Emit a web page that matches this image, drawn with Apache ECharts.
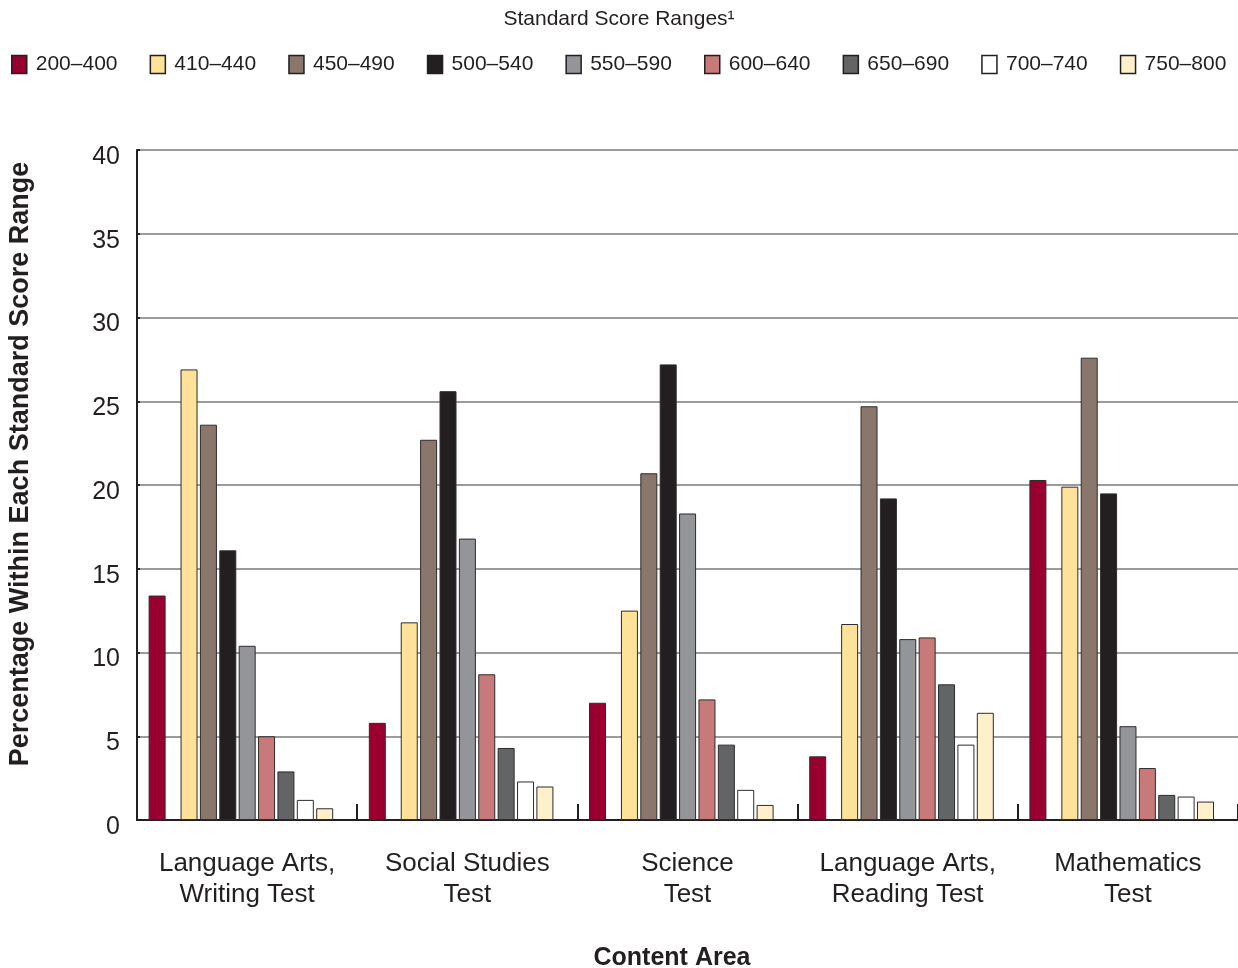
<!DOCTYPE html>
<html>
<head>
<meta charset="utf-8">
<title>Standard Score Ranges</title>
<script src="https://cdn.jsdelivr.net/npm/echarts@6/dist/echarts.min.js"></script>
<style>
  html, body { margin: 0; padding: 0; background: #fff; }
  #main { width: 1238px; height: 968px; }
</style>
</head>
<body>
<div id="main"></div>
<script>
var chart = echarts.init(document.getElementById('main'));

var categories = ['Language Arts,\nWriting Test', 'Social Studies\nTest', 'Science\nTest', 'Language Arts,\nReading Test', 'Mathematics\nTest'];
var rangeNames = ['200–400', '410–440', '450–490', '500–540', '550–590', '600–640', '650–690', '700–740', '750–800'];
var yTicks = [0, 5, 10, 15, 20, 25, 30, 35, 40];

// percentage in each range, one value per content area
var r200 = [13.4, 5.8, 7.0, 3.8, 20.3];
var r410 = [26.9, 11.8, 12.5, 11.7, 19.9];
var r450 = [23.6, 22.7, 20.7, 24.7, 27.6];
var r500 = [16.1, 25.6, 27.2, 19.2, 19.5];
var r550 = [10.4, 16.8, 18.3, 10.8, 5.6];
var r600 = [5.0, 8.7, 7.2, 10.9, 3.1];
var r650 = [2.9, 4.3, 4.5, 8.1, 1.5];
var r700 = [1.2, 2.3, 1.8, 4.5, 1.4];
var r750 = [0.7, 2.0, 0.9, 6.4, 1.1];

var values = [r200, r410, r450, r500, r550, r600, r650, r700, r750];
var colors = ['#990030', '#ffe29a', '#8b766b', '#231f20', '#939598', '#c87a7a', '#636466', '#ffffff', '#fff0cc'];

var ink = '#231f20';

function spacer(w) {
    // empty slot, only used to reproduce the spacing between bars
    return {
        type: 'bar', name: '', data: [], barWidth: w, silent: true
    };
}

var series = [];
values.forEach(function (vals, i) {
    series.push({
        type: 'bar',
        name: rangeNames[i],
        data: vals,
        barWidth: 17,
        barGap: '14%',
        itemStyle: { color: colors[i], borderColor: '#2e2b2c', borderWidth: 1 }
    });
    if (i === 0) series.push(spacer(11));
});
series.push(spacer(10));

var legends = rangeNames.map(function (n, i) {
    return {
        data: [n],
        left: 6 + i * 138.6,
        top: 49,
        itemWidth: 15,
        itemHeight: 18,
        selectedMode: false,
        icon: 'rect',
        itemStyle: { borderColor: ink, borderWidth: 1.5 },
        textStyle: { fontSize: 21, color: ink, padding: [0, 0, 0, 4] }
    };
});

var option = {
    animation: false,
    backgroundColor: '#fff',
    textStyle: { fontFamily: '"Liberation Sans", Arial, Helvetica, sans-serif' },
    title: {
        text: 'Standard Score Ranges¹',
        left: 'center',
        top: 4,
        textStyle: { fontSize: 21, fontWeight: 'normal', color: ink }
    },
    legend: legends,
    grid: { left: 137, right: 0, top: 150, bottom: 148, outerBoundsMode: 'none' },
    xAxis: {
        type: 'category',
        data: categories,
        name: 'Content Area',
        nameLocation: 'middle',
        nameGap: 126,
        nameTextStyle: { fontSize: 25, fontWeight: 'bold', color: ink, padding: [0, 31, 0, 0] },
        axisLine: { lineStyle: { color: ink, width: 2 } },
        axisTick: { show: true, inside: true, length: 16, lineStyle: { color: ink, width: 2 } },
        axisLabel: { interval: 0, fontSize: 26, lineHeight: 31, color: ink, margin: 28 }
    },
    yAxis: {
        type: 'value',
        min: yTicks[0],
        max: yTicks[yTicks.length - 1],
        interval: 5,
        name: 'Percentage Within Each Standard Score Range',
        nameLocation: 'middle',
        nameGap: 103,
        nameTextStyle: { fontSize: 27, fontWeight: 'bold', color: ink, padding: [0, 0, 0, 42] },
        axisLine: { show: true, lineStyle: { color: ink, width: 2 } },
        axisTick: { show: true, inside: true, length: 3, lineStyle: { color: ink, width: 2 } },
        axisLabel: { fontSize: 25, color: ink, margin: 17, verticalAlign: 'top', lineHeight: 14 },
        splitLine: { show: true, lineStyle: { color: '#9b9b9d', width: 2 } }
    },
    series: series
};
chart.setOption(option);
</script>
</body>
</html>
